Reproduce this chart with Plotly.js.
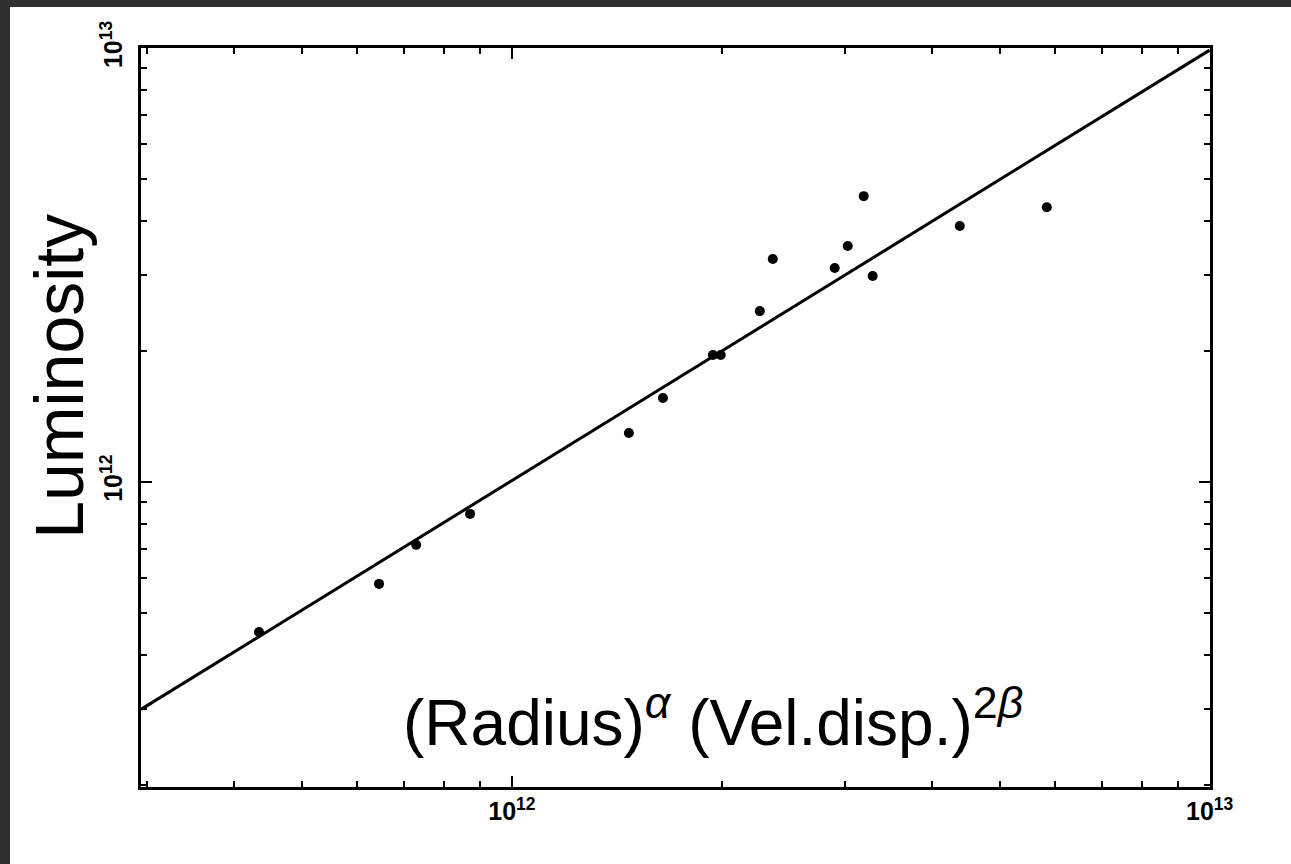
<!DOCTYPE html>
<html>
<head>
<meta charset="utf-8">
<script src="https://cdn.plot.ly/plotly-3.0.1.min.js"></script>
<style>
  html, body { margin: 0; padding: 0; background: #2f2f2f; width: 1291px; height: 864px; overflow: hidden; }
  #chart { position: absolute; left: 10px; top: 7px; width: 1281px; height: 857px; background: #ffffff; }
</style>
</head>
<body>
<div id="chart"></div>
<script>
// Data (log-log)
const sizeIndex = [4.34e11, 6.45e11, 7.29e11, 8.71e11, 1.471e12, 1.646e12, 1.941e12, 1.992e12,
                   2.266e12, 2.365e12, 2.902e12, 3.029e12, 3.193e12, 3.289e12, 4.384e12, 5.842e12];
const luminosity = [4.51e11, 5.82e11, 7.16e11, 8.44e11, 1.297e12, 1.561e12, 1.962e12, 1.962e12,
                    2.477e12, 3.265e12, 3.113e12, 3.498e12, 4.56e12, 2.983e12, 3.89e12, 4.30e12];
const fitX = [2.94e11, 1e13];
const fitY = [2.99e11, 9.9e12];
const majorTicks = [1e12, 1e13];
const majorTickText = ['<b>10<sup>12</sup></b>', '<b>10<sup>13</sup></b>'];
const xMinorTicks = [3e11, 4e11, 5e11, 6e11, 7e11, 8e11, 9e11, 2e12, 3e12, 4e12, 5e12, 6e12, 7e12, 8e12, 9e12];
const yMinorTicks = [2e11, 3e11, 4e11, 5e11, 6e11, 7e11, 8e11, 9e11, 2e12, 3e12, 4e12, 5e12, 6e12, 7e12, 8e12, 9e12];
const xTitle = '(Radius)<sup><i>α</i></sup> (Vel.disp.)<sup>2<i>β</i></sup>';
const yTitle = 'Luminosity';

const traces = [
  { x: fitX, y: fitY, mode: 'lines', line: { color: '#000', width: 3 }, hoverinfo: 'skip', showlegend: false },
  { x: sizeIndex, y: luminosity, mode: 'markers', marker: { color: '#000', size: 10, symbol: 'circle' }, showlegend: false }
];

const axisCommon = {
  type: 'log',
  showgrid: false,
  zeroline: false,
  showline: true,
  linecolor: '#000',
  linewidth: 3,
  mirror: 'ticks',
  ticks: 'inside',
  ticklen: 11,
  tickwidth: 2,
  tickcolor: '#000',
  tickmode: 'array',
  tickvals: majorTicks,
  ticktext: majorTickText,
  tickfont: { family: 'Liberation Sans, Arial, sans-serif', size: 25, color: '#000' }
};

const layout = {
  width: 1281, height: 857,
  paper_bgcolor: '#ffffff', plot_bgcolor: '#ffffff',
  margin: { l: 131, r: 81, t: 41, b: 77 },
  showlegend: false,
  xaxis: Object.assign({}, axisCommon, {
    range: [Math.log10(2.94e11), 13.0005],
    minor: { tickmode: 'array', tickvals: xMinorTicks, ticks: 'inside', ticklen: 6, tickwidth: 2, tickcolor: '#000', showgrid: false }
  }),
  yaxis: Object.assign({}, axisCommon, {
    range: [Math.log10(1.98e11), 13.0005],
    tickangle: -90,
    ticklabelstandoff: 6,
    minor: { tickmode: 'array', tickvals: yMinorTicks, ticks: 'inside', ticklen: 6, tickwidth: 2, tickcolor: '#000', showgrid: false }
  }),
  annotations: [
    { text: yTitle, xref: 'paper', yref: 'paper', x: -0.077, y: 0.556, textangle: -90,
      showarrow: false, xanchor: 'center', yanchor: 'middle',
      font: { family: 'Liberation Sans, Arial, sans-serif', size: 68, color: '#000' } },
    { text: xTitle, xref: 'paper', yref: 'paper', x: 0.535, y: 0.094,
      showarrow: false, xanchor: 'center', yanchor: 'middle',
      font: { family: 'Liberation Sans, Arial, sans-serif', size: 64, color: '#000' } }
  ]
};

Plotly.newPlot('chart', traces, layout, { displayModeBar: false, staticPlot: true });
</script>
</body>
</html>
